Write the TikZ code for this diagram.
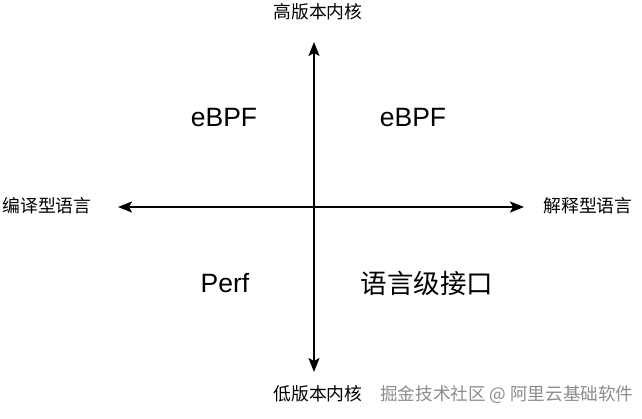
\documentclass[tikz,border=0pt]{standalone}
\usepackage{fontspec}
\setmainfont{Liberation Sans}
\newfontfamily\cjk{Noto Sans CJK SC}
\usetikzlibrary{arrows.meta}
\begin{document}
\begin{tikzpicture}[x=1pt,y=-1pt,
  axis/.style={line width=1.4pt,{Stealth[length=14pt,width=11pt,inset=3pt]}-{Stealth[length=14pt,width=11pt,inset=3pt]}},
  axlabel/.style={inner sep=0pt,font=\cjk\fontsize{17.8pt}{20pt}\selectfont},
  big/.style={inner sep=0pt,font=\fontsize{26.5pt}{30pt}\selectfont},
  bigcjk/.style={inner sep=0pt,font=\cjk\fontsize{26.5pt}{30pt}\selectfont},
  wmark/.style={inner sep=0pt,text=black!45,font=\cjk\fontsize{17.6pt}{20pt}\selectfont}]
\useasboundingbox[fill=white] (0,0) rectangle (642,419);
\coordinate (top) at (314,42);
\coordinate (bot) at (314,372);
\coordinate (lft) at (118,207);
\coordinate (rgt) at (524,207);
\draw[axis] (bot) -- (top);
\draw[axis] (lft) -- (rgt);
\node[axlabel] (hi) at (318,12) {高版本内核};
\node[axlabel] (lo) at (318,394) {低版本内核};
\node[axlabel] (comp) at (47,206) {编译型语言};
\node[axlabel] (interp) at (588,206) {解释型语言};
\node[big] (q2) at (224,118) {eBPF};
\node[big] (q1) at (413,118) {eBPF};
\node[big] (q3) at (225,283) {Perf};
\node[bigcjk] (q4) at (427,283) {语言级接口};
\node[wmark,anchor=west] (wm) at (380,395) {掘金技术社区 @ 阿里云基础软件};
\end{tikzpicture}
\end{document}
